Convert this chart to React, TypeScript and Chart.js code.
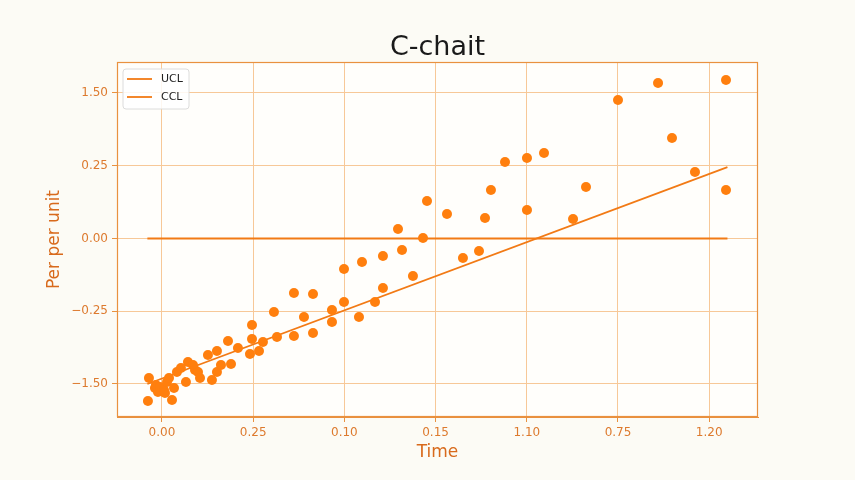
import React, { useEffect, useRef } from 'react';
import { Chart, registerables } from 'chart.js';

Chart.register(...registerables);

const xTickLabels = ['0.00', '0.25', '0.10', '0.15', '1.10', '0.75', '1.20'];
const yTickLabels = ['\u22121.50', '\u22120.25', '0.00', '0.25', '1.50'];

const scatterX = [
  -0.143, -0.154, -0.077, -0.066, -0.044, -0.022, 0.022, 0.033, 0.055, 0.077,
  0.110, 0.132, 0.164, 0.208, 0.263, 0.285, 0.340, 0.362, 0.395, 0.417,
  0.504, 0.548, 0.603, 0.603, 0.647, 0.724, 0.757, 0.833, 0.965, 0.987,
  0.987, 1.064, 1.107, 1.261, 1.228, 1.447, 1.447, 1.557, 1.656, 1.656,
  1.864, 1.864, 1.996, 1.996, 2.160, 2.193, 2.336, 2.423, 2.423, 2.588,
  2.632, 2.752, 2.906, 2.862, 3.125, 3.300, 3.476, 3.542, 3.607, 3.761,
  4.002, 4.002, 4.189, 4.507, 4.649, 5.000, 5.439, 5.592, 5.844, 6.184,
  6.184,
];
const scatterY = [
  0.082, -0.234, -0.055, -0.014, -0.110, -0.041, -0.082, -0.124, 0.027, 0.082,
  -0.220, -0.055, 0.165, 0.220, 0.027, 0.302, 0.261, 0.192, 0.165, 0.082,
  0.399, 0.055, 0.165, 0.454, 0.261, 0.591, 0.275, 0.495, 0.412, 0.619,
  0.811, 0.454, 0.577, 0.646, 0.990, 1.251, 0.660, 0.921, 1.237, 0.701,
  1.017, 0.852, 1.581, 1.127, 0.921, 1.677, 1.127, 1.759, 1.320, 2.131,
  1.842, 1.485, 2.515, 2.007, 2.337, 1.732, 1.828, 2.282, 2.667, 3.052,
  3.107, 2.392, 3.175, 2.268, 2.708, 3.904, 4.137, 3.381, 2.914, 4.179,
  2.667,
];

const uclX = [-0.16, 6.2];
const uclY = [0.0, 2.98];
const cclX = [-0.16, 6.2];
const cclY = [2.0, 2.0];

const seriesLabels = ['UCL', 'CCL'];

const ORANGE = '#ff7f0e';
const LINE = '#f27a15';
const SPINE = '#e9913f';
const GRID = '#f7c898';
const TICK_TEXT = '#dd7a2e';
const AXIS_TEXT = '#d86a1c';

const decorPlugin = {
  id: 'decor',
  beforeDraw(chart: any) {
    const { ctx, chartArea } = chart;
    ctx.save();
    ctx.fillStyle = '#fffefb';
    ctx.fillRect(chartArea.left, chartArea.top, chartArea.right - chartArea.left, chartArea.bottom - chartArea.top);
    ctx.restore();
  },
  afterDraw(chart: any) {
    const { ctx, chartArea } = chart;
    ctx.save();
    // spines
    ctx.strokeStyle = SPINE;
    ctx.lineWidth = 1.2;
    ctx.strokeRect(chartArea.left + 0.5, chartArea.top + 0.5, chartArea.right - chartArea.left - 1, chartArea.bottom - chartArea.top - 1);
    // title
    ctx.fillStyle = '#1a1a1a';
    ctx.font = '27px "DejaVu Sans"';
    ctx.textAlign = 'center';
    ctx.textBaseline = 'alphabetic';
    ctx.fillText('C-chait', (chartArea.left + chartArea.right) / 2, 55);
    // legend
    const bx = chartArea.left + 6;
    const by = chartArea.top + 7;
    const bw = 66;
    const bh = 40;
    ctx.beginPath();
    ctx.roundRect(bx, by, bw, bh, 3);
    ctx.fillStyle = 'rgba(255,255,255,0.85)';
    ctx.fill();
    ctx.strokeStyle = '#dcdcdc';
    ctx.lineWidth = 1;
    ctx.stroke();
    ctx.font = '11px "DejaVu Sans"';
    ctx.textAlign = 'left';
    ctx.textBaseline = 'middle';
    seriesLabels.forEach((lab, i) => {
      const y = by + 10 + i * 18;
      ctx.beginPath();
      ctx.moveTo(bx + 4, y);
      ctx.lineTo(bx + 29, y);
      ctx.strokeStyle = LINE;
      ctx.lineWidth = 1.8;
      ctx.stroke();
      ctx.fillStyle = '#222';
      ctx.fillText(lab, bx + 38, y + 0.5);
    });
    ctx.restore();
  },
};

export default function App() {
  const ref = useRef<HTMLCanvasElement>(null);
  useEffect(() => {
    document.body.style.margin = '0';
    const canvas = ref.current!;
    const chart = new Chart(canvas, {
      type: 'scatter',
      data: {
        datasets: [
          {
            label: 'points',
            data: scatterX.map((x, i) => ({ x, y: scatterY[i] })),
            backgroundColor: ORANGE,
            borderColor: ORANGE,
            pointRadius: 5,
            pointBorderWidth: 0,
            showLine: false,
            order: 0,
          },
          {
            label: seriesLabels[0],
            data: uclX.map((x, i) => ({ x, y: uclY[i] })),
            borderColor: LINE,
            borderWidth: 1.8,
            pointRadius: 0,
            showLine: true,
            order: 1,
          },
          {
            label: seriesLabels[1],
            data: cclX.map((x, i) => ({ x, y: cclY[i] })),
            borderColor: LINE,
            borderWidth: 1.8,
            pointRadius: 0,
            showLine: true,
            order: 1,
          },
        ],
      },
      options: {
        responsive: false,
        animation: false,
        layout: { padding: { left: 0, right: 97, top: 62, bottom: 0 } },
        plugins: { legend: { display: false }, tooltip: { enabled: false }, title: { display: false } },
        scales: {
          x: {
            type: 'linear',
            min: -0.493,
            max: 6.535,
            afterBuildTicks: (s: any) => {
              s.ticks = xTickLabels.map((_, i) => ({ value: i }));
            },
            afterFit: (s: any) => {
              s.height = 63;
            },
            ticks: {
              callback: (v: any) => xTickLabels[Math.round(v)] ?? '',
              color: TICK_TEXT,
              font: { family: 'DejaVu Sans', size: 12 },
              padding: 4,
              maxRotation: 0,
              autoSkip: false,
            },
            grid: { color: GRID, lineWidth: 1, tickLength: 5, tickColor: SPINE, drawTicks: true },
            border: { display: true, color: SPINE, width: 1 },
            title: {
              display: true,
              text: 'Time',
              color: AXIS_TEXT,
              font: { family: 'DejaVu Sans', size: 17 },
              padding: { top: 0, bottom: 17 },
            },
          },
          y: {
            type: 'linear',
            min: -0.454,
            max: 4.426,
            afterBuildTicks: (s: any) => {
              s.ticks = yTickLabels.map((_, i) => ({ value: i }));
            },
            afterFit: (s: any) => {
              s.width = 117;
            },
            ticks: {
              callback: (v: any) => yTickLabels[Math.round(v)] ?? '',
              color: TICK_TEXT,
              font: { family: 'DejaVu Sans', size: 12 },
              padding: 4,
              autoSkip: false,
            },
            grid: { color: GRID, lineWidth: 1, tickLength: 5, tickColor: SPINE, drawTicks: true },
            border: { display: true, color: SPINE, width: 1 },
            title: {
              display: true,
              text: 'Per per unit',
              color: AXIS_TEXT,
              font: { family: 'DejaVu Sans', size: 17 },
              padding: { top: 44, bottom: 0 },
            },
          },
        },
      },
      plugins: [decorPlugin],
    });
    return () => chart.destroy();
  }, []);
  return (
    <div style={{ position: 'fixed', left: 0, top: 0, width: 855, height: 480, background: '#fcfbf5' }}>
      <canvas ref={ref} width={855} height={480} style={{ display: 'block' }} />
    </div>
  );
}
